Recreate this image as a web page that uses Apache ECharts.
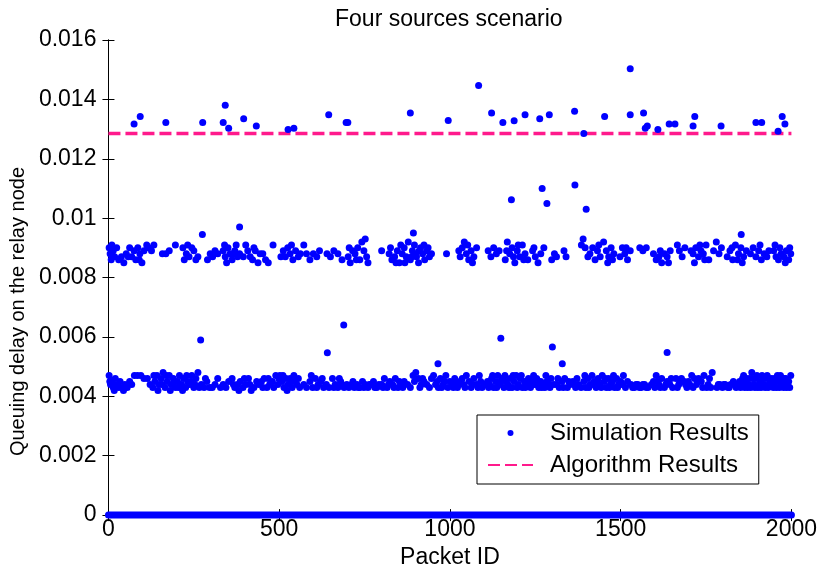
<!DOCTYPE html>
<html>
<head>
<meta charset="utf-8">
<script src="https://cdn.jsdelivr.net/npm/echarts@6/dist/echarts.min.js"></script>
<style>
  html, body { margin: 0; padding: 0; background: #fff; }
  #chart { width: 820px; height: 574px; }
</style>
</head>
<body>
<div id="chart"></div>
<script>
// packet id / queuing delay (s)
const topCluster = [
  [75,0.01317],[93,0.01342],[168,0.01322],[276,0.01322],[336,0.01322],[342,0.01380],[352,0.01303],
  [396,0.01335],[433,0.01310],[526,0.01299],[543,0.01303],[645,0.01348],[696,0.01322],[701,0.01322],
  [884,0.01354],[995,0.01329],[1084,0.01447],[1122,0.01354],[1155,0.01322],[1188,0.01328],[1220,0.01348],
  [1263,0.01335],[1291,0.01348],[1365,0.01360],[1392,0.01285],[1453,0.01342],[1528,0.01503],[1528,0.01348],
  [1567,0.01354],[1572,0.01303],[1578,0.01310],[1609,0.01299],[1642,0.01317],[1659,0.01317],[1712,0.01310],
  [1717,0.01342],[1794,0.01310],[1896,0.01322],[1913,0.01322],[1961,0.01293],[1973,0.01342],[1981,0.01317]
];

const midOutliers = [
  [275,0.00945],[384,0.0097],[893,0.0095],[1853,0.00945],
  [1180,0.01062],[1270,0.01100],[1284,0.01049],[1366,0.01112],[1399,0.01030]
];

const midBand = [
  [2,0.0090],[5,0.0088],[10,0.0091],[14,0.0089],[18,0.0087],[30,0.0086],[38,0.0087],[45,0.0085],[52,0.0088],
  [62,0.0090],[68,0.0087],[75,0.0089],[80,0.0086],[86,0.0090],[92,0.0088],[98,0.0085],
  [112,0.0091],[118,0.0090],[126,0.0089],[133,0.0091],[158,0.0088],[168,0.0088],[178,0.0089],[196,0.0091],
  [218,0.0090],[222,0.0086],[228,0.0088],[236,0.0087],[244,0.0090],[250,0.0089],[262,0.0087],
  [290,0.0086],[298,0.0088],[305,0.0087],[312,0.0089],[320,0.0088],
  [336,0.0089],[342,0.0087],[350,0.0090],[356,0.0088],[362,0.0086],[370,0.0089],[378,0.0087],[384,0.0088],
  [402,0.0091],[408,0.0089],[415,0.0087],[422,0.0086],[430,0.0089],[438,0.0085],
  [452,0.0088],[460,0.0086],[468,0.0085],[482,0.0091],
  [512,0.0089],[518,0.0087],[525,0.0090],[532,0.0088],[540,0.0086],[548,0.0089],[556,0.0087],
  [572,0.0091],[580,0.0088],[590,0.0086],[600,0.0088],[610,0.0087],[618,0.0089],
  [640,0.0088],[650,0.0087],[660,0.0089],[672,0.0088],[684,0.0086],
  [702,0.0087],[708,0.0085],[715,0.0089],[722,0.0088],[730,0.0090],[736,0.0086],[742,0.0092],[748,0.0089],[756,0.0087],
  [800,0.0089],[822,0.0088],[830,0.0086],[838,0.0087],[846,0.0089],[852,0.0085],[860,0.0088],[866,0.0090],
  [872,0.0087],[878,0.0092],[884,0.0086],[890,0.0089],[896,0.0091],[902,0.0087],[908,0.0085],[914,0.0090],
  [920,0.0088],[926,0.0086],[932,0.0089],[940,0.0087],[990,0.0088],
  [1030,0.0087],[1036,0.0090],[1042,0.0092],[1048,0.0088],[1055,0.0086],[1062,0.0089],[1070,0.0087],[1078,0.0090],
  [1112,0.0089],[1120,0.0087],[1128,0.0090],[1136,0.0088],[1144,0.0089],
  [1162,0.0086],[1168,0.0092],[1175,0.0088],[1182,0.0090],[1190,0.0085],[1197,0.0089],[1204,0.0087],[1212,0.0091],
  [1220,0.0088],[1228,0.0086],[1242,0.0089],[1250,0.0087],[1258,0.0085],[1266,0.0088],[1275,0.0090],
  [1298,0.0086],[1306,0.0088],[1312,0.0087],[1334,0.0089],[1340,0.0087],
  [1385,0.0091],[1390,0.0093],[1396,0.0090],[1410,0.0088],[1418,0.0090],[1425,0.0086],[1432,0.0089],[1440,0.0087],
  [1450,0.0092],[1458,0.0089],[1465,0.0087],[1472,0.0090],[1480,0.0088],
  [1498,0.0087],[1505,0.0090],[1512,0.0088],[1520,0.0086],[1528,0.0089],[1556,0.0090],[1565,0.0089],[1575,0.0090],
  [1596,0.0088],[1604,0.0086],[1612,0.0087],[1620,0.0085],[1628,0.0088],[1636,0.0087],[1645,0.0089],
  [1666,0.0091],[1672,0.0089],[1680,0.0087],[1688,0.0090],
  [1706,0.0089],[1712,0.0088],[1720,0.0090],[1728,0.0087],[1735,0.0089],[1742,0.0088],[1750,0.0091],[1758,0.0086],
  [1772,0.0089],[1780,0.0092],[1788,0.0088],[1795,0.0090],
  [1812,0.0087],[1820,0.0089],[1828,0.0086],[1836,0.0091],[1845,0.0088],[1852,0.0090],[1860,0.0087],[1868,0.0089],
  [1880,0.0088],[1888,0.0090],[1896,0.0087],[1904,0.0089],[1912,0.0086],[1920,0.0088],[1928,0.0087],
  [1948,0.0089],[1955,0.0087],[1962,0.0086],[1970,0.0088],[1978,0.0087],[1985,0.0089],[1992,0.0086],[1998,0.0088]
];

const midBandExtra = [
  [8,0.0086],[24,0.0090],[58,0.0087],[90,0.0086],[104,0.0089],[232,0.0091],[256,0.0086],[340,0.0091],
  [346,0.0085],[366,0.0088],[374,0.0091],[395,0.0087],[426,0.0090],[444,0.0088],[505,0.0087],[536,0.0091],
  [562,0.0088],[705,0.0090],[726,0.0086],[752,0.0093],[760,0.0085],[826,0.0090],[842,0.0085],[856,0.0091],
  [868,0.0085],[888,0.0087],[898,0.0088],[910,0.0089],[924,0.0091],[936,0.0090],[946,0.0088],[1026,0.0089],
  [1052,0.0091],[1066,0.0085],[1166,0.0089],[1186,0.0087],[1200,0.0091],[1216,0.0086],[1246,0.0090],
  [1404,0.0087],[1436,0.0091],[1462,0.0085],[1476,0.0086],[1516,0.0090],[1616,0.0089],[1640,0.0085],
  [1716,0.0085],[1732,0.0091],[1746,0.0086],[1826,0.0090],[1842,0.0086],[1856,0.0085],[1908,0.0091],
  [1934,0.0089],[1952,0.0091],[1966,0.0090],[1982,0.0085],[1995,0.0090]
];

const lowOutliers = [
  [270,0.0059],[641,0.00547],[689,0.0064],[965,0.0051],[1149,0.00596],[1300,0.00566],[1329,0.0051],[1636,0.00548]
];

const lowBand = [
  [2,0.0047],[6,0.0044],[10,0.0045],[14,0.0043],[20,0.0046],[26,0.0044],[30,0.0043],
  [40,0.0043],[48,0.0044],[55,0.0043],[76,0.0047],[85,0.0047],[95,0.0047],[104,0.0046],
  [130,0.0043],[136,0.0045],[142,0.0047],[148,0.0044],[154,0.0046],[160,0.0048],[166,0.0043],[172,0.0045],
  [178,0.0047],[184,0.0044],[190,0.0046],[196,0.0043],[202,0.0045],[208,0.0047],[214,0.0044],[220,0.0046],
  [226,0.0043],[232,0.0045],[238,0.0044],[244,0.0047],[250,0.0043],[256,0.0046],[262,0.0048],
  [272,0.0044],[280,0.0043],[288,0.0045],[296,0.0043],[320,0.0046],[328,0.0043],[336,0.0044],
  [362,0.0046],[370,0.0043],[378,0.0044],[386,0.0045],[394,0.0043],[402,0.0044],[410,0.0046],[418,0.0042],
  [440,0.0044],[448,0.0045],[456,0.0046],[464,0.0043],[472,0.0044],[480,0.0045],
  [490,0.0047],[496,0.0044],[502,0.0047],[508,0.0045],[514,0.0043],[520,0.0046],[526,0.0044],[532,0.0046],
  [538,0.0043],[546,0.0045],[552,0.0044],[560,0.0043],
  [590,0.0045],[598,0.0043],[606,0.0046],[614,0.0044],[622,0.0045],[630,0.0043],[638,0.0044],
  [656,0.0046],[664,0.0044],[672,0.0043],[680,0.0045],[690,0.0043],[698,0.0044],
  [712,0.0044],[720,0.0043],[728,0.0044],[736,0.0043],[744,0.0045],[752,0.0044],[760,0.0043],[768,0.0044],
  [776,0.0045],[786,0.0043],
  [800,0.0044],[808,0.0046],[816,0.0043],[824,0.0045],[832,0.0044],[840,0.0046],[848,0.0043],[856,0.0044],[866,0.0045],
  [892,0.0047],[900,0.0048],[908,0.0046],[916,0.0044],[924,0.0045],
  [940,0.0043],[946,0.0046],[952,0.0047],[958,0.0044],[966,0.0043],[972,0.0046],[980,0.0044],[988,0.0047],
  [994,0.0043],[1000,0.0045],[1006,0.0044],[1014,0.0046],[1022,0.0043],[1030,0.0045],[1040,0.0044],[1048,0.0047],
  [1056,0.0045],[1062,0.0043],[1070,0.0046],[1078,0.0044],[1086,0.0047],[1094,0.0043],
  [1110,0.0045],[1116,0.0044],[1122,0.0046],[1128,0.0043],[1134,0.0045],[1140,0.0047],[1146,0.0044],[1152,0.0046],
  [1158,0.0043],[1164,0.0045],[1170,0.0044],[1176,0.0046],[1182,0.0043],[1188,0.0045],[1194,0.0047],[1200,0.0044],
  [1206,0.0046],[1212,0.0043],[1218,0.0045],[1224,0.0044],[1230,0.0046],[1236,0.0043],[1242,0.0045],[1248,0.0044],
  [1254,0.0046],[1260,0.0043],[1266,0.0045],[1272,0.0044],[1278,0.0043],[1284,0.0045],[1290,0.0044],[1296,0.0046],
  [1312,0.0044],[1320,0.0043],[1328,0.0045],[1336,0.0046],[1344,0.0043],[1352,0.0044],[1360,0.0045],[1368,0.0043],
  [1376,0.0044],[1392,0.0045],[1398,0.0043],[1404,0.0046],[1410,0.0044],[1416,0.0047],[1422,0.0045],[1428,0.0043],
  [1434,0.0046],[1440,0.0044],[1446,0.0047],[1452,0.0045],[1458,0.0043],[1464,0.0046],[1470,0.0044],[1476,0.0045],
  [1482,0.0043],[1488,0.0046],[1494,0.0044],[1500,0.0045],[1508,0.0047],[1514,0.0043],
  [1530,0.0044],[1540,0.0043],[1550,0.0044],[1560,0.0043],[1570,0.0044],[1580,0.0043],
  [1596,0.0045],[1604,0.0047],[1612,0.0044],[1620,0.0046],[1628,0.0043],[1636,0.0045],[1644,0.0044],[1652,0.0043],
  [1662,0.0046],[1670,0.0044],[1678,0.0046],[1686,0.0045],[1694,0.0043],
  [1702,0.0044],[1708,0.0047],[1716,0.0046],[1722,0.0044],[1728,0.0046],[1736,0.0045],[1744,0.0047],[1752,0.0043],
  [1760,0.0046],[1768,0.0048],
  [1782,0.0043],[1790,0.0044],[1798,0.0043],[1806,0.0044],[1814,0.0043],[1822,0.0044],[1830,0.0045],[1838,0.0043],
  [1848,0.0045],[1854,0.0044],[1860,0.0047],[1866,0.0045],[1872,0.0043],[1878,0.0046],[1884,0.0048],[1890,0.0044],
  [1896,0.0046],[1902,0.0043],[1908,0.0045],[1914,0.0047],[1920,0.0044],[1926,0.0046],[1932,0.0043],[1938,0.0045],
  [1944,0.0044],[1950,0.0046],[1956,0.0043],[1962,0.0045],[1968,0.0047],[1974,0.0044],[1980,0.0046],[1986,0.0043],
  [1992,0.0045],[1998,0.0047]
];

const lowBandExtra = [
  [4,0.0045],[17,0.0042],[34,0.0045],[44,0.0042],[62,0.0045],[68,0.0044],[114,0.0046],[122,0.0044],[133,0.0047],
  [145,0.0042],[157,0.0044],[169,0.0047],[181,0.0042],[193,0.0045],[205,0.0043],[217,0.0042],[229,0.0047],
  [241,0.0045],[253,0.0044],[266,0.0043],[284,0.0046],[304,0.0043],[312,0.0044],[344,0.0043],[352,0.0045],
  [366,0.0044],[382,0.0042],[398,0.0046],[414,0.0044],[426,0.0043],[434,0.0045],[452,0.0043],[468,0.0046],
  [484,0.0043],[499,0.0046],[511,0.0047],[523,0.0042],[535,0.0045],[543,0.0047],[556,0.0046],[572,0.0044],
  [580,0.0043],[594,0.0047],[610,0.0043],[626,0.0046],[646,0.0043],[660,0.0043],[676,0.0046],[684,0.0044],
  [704,0.0043],[716,0.0045],[732,0.0043],[748,0.0043],[764,0.0044],[780,0.0043],[792,0.0044],[804,0.0043],
  [820,0.0044],[836,0.0043],[852,0.0045],[862,0.0043],[876,0.0044],[884,0.0043],[896,0.0045],[912,0.0043],
  [920,0.0046],[932,0.0044],[962,0.0045],[976,0.0043],[984,0.0045],[1010,0.0043],[1018,0.0045],[1026,0.0044],
  [1036,0.0046],[1044,0.0043],[1066,0.0044],[1082,0.0043],[1090,0.0045],[1102,0.0044],[1113,0.0043],
  [1125,0.0047],[1137,0.0043],[1149,0.0045],[1161,0.0047],[1173,0.0043],[1185,0.0047],[1197,0.0043],
  [1209,0.0047],[1221,0.0043],[1233,0.0045],[1245,0.0047],[1257,0.0044],[1269,0.0043],[1281,0.0047],
  [1293,0.0043],[1304,0.0044],[1316,0.0046],[1332,0.0043],[1348,0.0045],[1364,0.0044],[1372,0.0046],
  [1384,0.0043],[1395,0.0047],[1407,0.0043],[1419,0.0044],[1431,0.0045],[1443,0.0043],[1455,0.0046],
  [1467,0.0043],[1479,0.0047],[1491,0.0043],[1504,0.0044],[1520,0.0045],[1535,0.0043],[1545,0.0044],
  [1555,0.0043],[1565,0.0044],[1575,0.0043],[1590,0.0044],[1600,0.0043],[1608,0.0045],[1616,0.0043],
  [1632,0.0044],[1648,0.0046],[1666,0.0043],[1674,0.0045],[1690,0.0044],[1698,0.0045],[1712,0.0043],
  [1726,0.0045],[1740,0.0043],[1756,0.0044],[1764,0.0043],[1786,0.0044],[1802,0.0044],[1818,0.0043],
  [1834,0.0044],[1851,0.0043],[1857,0.0046],[1863,0.0043],[1869,0.0046],[1875,0.0044],[1881,0.0043],
  [1887,0.0046],[1893,0.0043],[1899,0.0047],[1905,0.0044],[1911,0.0043],[1917,0.0046],[1923,0.0043],
  [1929,0.0047],[1935,0.0044],[1941,0.0046],[1947,0.0043],[1953,0.0045],[1959,0.0047],[1965,0.0043],
  [1971,0.0045],[1977,0.0043],[1983,0.0046],[1989,0.0044],[1995,0.0043]
];

// packets with zero delay cover the whole range (drawn as a solid run)
const zeroSpan = [[0, 0], [2000, 0]];

const algorithmLevel = 0.01285;
const algorithmSpan = [0, 2000];

const FONT = "'Liberation Sans', Arial, sans-serif";
const BLUE = "#0000ff";
const PINK = "#ff1a8c";

const chart = echarts.init(document.getElementById("chart"), null, { renderer: "canvas" });

const simPoints = [].concat(topCluster, midOutliers, midBand, midBandExtra, lowOutliers, lowBand, lowBandExtra);

const tickStyle = { show: true, inside: true, length: 6, lineStyle: { color: "#000", width: 1 } };
const lineStyleBlack = { show: true, lineStyle: { color: "#000", width: 1 } };

const option = {
  backgroundColor: "#fff",
  animation: false,
  textStyle: { fontFamily: FONT },
  title: {
    text: "Four sources scenario",
    left: 330,
    top: 3,
    textStyle: { fontFamily: FONT, fontSize: 23, fontWeight: "normal", color: "#000" },
  },
  grid: { left: 105, right: 28, top: 40, bottom: 56, containLabel: false },
  legend: {
    orient: "vertical",
    left: 477,
    top: 415,
    padding: [6, 10, 7, 10],
    itemGap: 8,
    itemWidth: 45,
    itemHeight: 6,
    backgroundColor: "#fff",
    borderColor: "#000",
    borderWidth: 1,
    borderRadius: 0,
    textStyle: { fontFamily: FONT, fontSize: 24, color: "#000", padding: [0, 0, 0, 12] },
    data: [
      { name: "Simulation Results", icon: "circle", itemStyle: { color: BLUE, opacity: 1 } },
      { name: "Algorithm Results", itemStyle: { color: "transparent", opacity: 0 } },
    ],
  },
  xAxis: [
    {
      type: "value",
      min: 0,
      max: 2000,
      interval: 500,
      name: "Packet ID",
      nameLocation: "middle",
      nameGap: 21,
      nameTextStyle: { fontFamily: FONT, fontSize: 23, color: "#000" },
      axisLine: lineStyleBlack,
      axisTick: tickStyle,
      axisLabel: { margin: 3, fontFamily: FONT, fontSize: 23, color: "#000", formatter: (v) => String(v) },
      splitLine: { show: false },
    },
    {
      type: "value",
      position: "top",
      min: 0,
      max: 2000,
      interval: 500,
      axisLine: lineStyleBlack,
      axisTick: tickStyle,
      axisLabel: { show: false },
      splitLine: { show: false },
    },
  ],
  yAxis: [
    {
      type: "value",
      min: 0,
      max: 0.016,
      interval: 0.002,
      name: "Queuing delay on the relay node",
      nameLocation: "middle",
      nameGap: 76,
      nameTextStyle: { fontFamily: FONT, fontSize: 20, color: "#000", padding: [0, 68, 0, 0] },
      axisLine: lineStyleBlack,
      axisTick: tickStyle,
      axisLabel: {
        margin: 12,
        fontFamily: FONT,
        fontSize: 23,
        color: "#000",
        formatter: (v) => String(+v.toFixed(3)),
      },
      splitLine: { show: false },
    },
    {
      type: "value",
      position: "right",
      min: 0,
      max: 0.016,
      interval: 0.002,
      axisLine: lineStyleBlack,
      axisTick: tickStyle,
      axisLabel: { show: false },
      splitLine: { show: false },
    },
  ],
  series: [
    {
      name: "Simulation Results",
      type: "scatter",
      data: simPoints,
      symbol: "circle",
      symbolSize: 7,
      itemStyle: { color: BLUE, opacity: 1 },
      z: 3,
    },
    {
      name: "Simulation Results",
      type: "line",
      data: zeroSpan,
      symbol: "none",
      clip: false,
      lineStyle: { color: BLUE, width: 7, cap: "round" },
      z: 4,
    },
    {
      name: "Algorithm Results",
      type: "line",
      data: algorithmSpan.map((x) => [x, algorithmLevel]),
      symbol: "none",
      lineStyle: { color: PINK, width: 3.5, type: [12, 5] },
      z: 2,
    },
  ],
};

chart.setOption(option);
</script>
</body>
</html>
